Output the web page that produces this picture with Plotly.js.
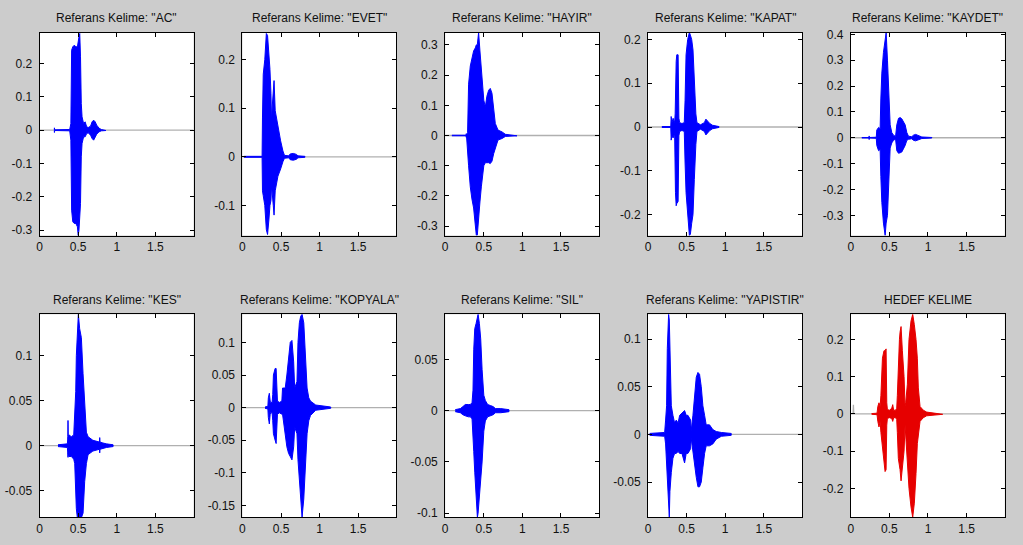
<!DOCTYPE html>
<html>
<head>
<meta charset="utf-8">
<script src="https://cdn.plot.ly/plotly-3.0.1.min.js"></script>
<style>html,body{margin:0;padding:0;background:#cccccc;}#chart{width:1023px;height:545px;}</style>
</head>
<body>
<div id="chart"></div>
<script>
// ---- titles ----
const titles = ['Referans Kelime: "AC"','Referans Kelime: "EVET"','Referans Kelime: "HAYIR"','Referans Kelime: "KAPAT"','Referans Kelime: "KAYDET"',
                'Referans Kelime: "KES"','Referans Kelime: "KOPYALA"','Referans Kelime: "SIL"','Referans Kelime: "YAPISTIR"','HEDEF KELIME'];

// ---- waveform envelopes (time s, upper, lower) ----
const AC_t  = [0.19,0.192,0.196,0.39,0.405,0.415,0.43,0.45,0.47,0.49,0.50,0.51,0.52,0.53,0.54,0.55,0.57,0.59,0.61,0.63,0.66,0.68,0.70,0.72,0.74,0.77,0.80,0.86];
const AC_up = [0.001,0.007,0.001,0.002,0.02,0.24,0.25,0.255,0.25,0.25,0.27,0.28,0.29,0.22,0.08,0.04,0.02,0.025,0.01,0.008,0.012,0.025,0.03,0.025,0.015,0.006,0.002,0.001];
const AC_lo = [-0.001,-0.007,-0.001,-0.002,-0.03,-0.24,-0.275,-0.28,-0.28,-0.29,-0.316,-0.3,-0.27,-0.22,-0.08,-0.04,-0.02,-0.02,-0.01,-0.008,-0.015,-0.025,-0.03,-0.02,-0.012,-0.005,-0.002,-0.001];

const EVET_t  = [0.02,0.255,0.26,0.27,0.29,0.30,0.31,0.326,0.343,0.357,0.37,0.378,0.385,0.40,0.41,0.425,0.46,0.495,0.525,0.545,0.60,0.62,0.66,0.70,0.72,0.81];
const EVET_up = [0.001,0.001,0.08,0.17,0.2,0.24,0.254,0.25,0.22,0.18,0.13,0.07,0.1,0.15,0.157,0.095,0.06,0.033,0.012,0.003,0.002,0.006,0.007,0.005,0.002,0.001];
const EVET_lo = [-0.001,-0.001,-0.07,-0.08,-0.1,-0.13,-0.15,-0.16,-0.13,-0.1,-0.09,-0.06,-0.07,-0.1,-0.12,-0.07,-0.04,-0.025,-0.01,-0.003,-0.002,-0.006,-0.007,-0.005,-0.002,-0.001];

const HAYIR_t  = [0.087,0.27,0.273,0.276,0.29,0.303,0.325,0.346,0.368,0.39,0.403,0.416,0.433,0.45,0.468,0.485,0.50,0.52,0.54,0.563,0.584,0.606,0.628,0.649,0.684,0.736,0.78,0.93];
const HAYIR_up = [0.001,0.001,0.006,0.001,0.01,0.17,0.23,0.25,0.28,0.29,0.3,0.3,0.341,0.28,0.21,0.15,0.117,0.095,0.13,0.15,0.156,0.14,0.084,0.04,0.018,0.012,0.004,0.001];
const HAYIR_lo = [-0.001,-0.001,-0.006,-0.001,-0.03,-0.1,-0.17,-0.21,-0.24,-0.29,-0.33,-0.33,-0.28,-0.22,-0.17,-0.13,-0.1,-0.09,-0.09,-0.09,-0.093,-0.085,-0.06,-0.04,-0.015,-0.01,-0.003,-0.001];

const KAPAT_t  = [0.18,0.295,0.30,0.31,0.325,0.345,0.352,0.356,0.365,0.373,0.39,0.40,0.41,0.44,0.47,0.48,0.493,0.514,0.536,0.549,0.566,0.583,0.60,0.62,0.634,0.68,0.73,0.75,0.78,0.80,0.836,0.92];
const KAPAT_up = [0.001,0.001,0.024,0.01,0.02,0.01,0.03,0.12,0.15,0.165,0.165,0.02,0.01,0.008,0.01,0.06,0.165,0.2,0.216,0.21,0.2,0.176,0.1,0.03,0.01,0.005,0.01,0.018,0.012,0.008,0.004,0.001];
const KAPAT_lo = [-0.001,-0.001,-0.03,-0.02,-0.025,-0.015,-0.04,-0.15,-0.18,-0.175,-0.17,-0.02,-0.01,-0.008,-0.01,-0.08,-0.15,-0.2,-0.248,-0.245,-0.22,-0.2,-0.12,-0.04,-0.01,-0.005,-0.01,-0.018,-0.012,-0.008,-0.004,-0.001];

const KAYDET_t  = [0.143,0.236,0.238,0.24,0.33,0.337,0.36,0.38,0.389,0.402,0.423,0.445,0.458,0.475,0.492,0.51,0.531,0.553,0.58,0.596,0.618,0.64,0.661,0.704,0.726,0.747,0.79,0.812,0.84,0.87,0.92,1.05];
const KAYDET_up = [0.001,0.001,0.007,0.001,0.002,0.03,0.04,0.035,0.15,0.25,0.33,0.37,0.407,0.3,0.15,0.05,0.02,0.01,0.005,0.05,0.075,0.078,0.073,0.05,0.02,0.006,0.004,0.01,0.013,0.01,0.003,0.001];
const KAYDET_lo = [-0.001,-0.001,-0.007,-0.001,-0.002,-0.03,-0.05,-0.045,-0.15,-0.25,-0.33,-0.378,-0.33,-0.3,-0.15,-0.04,-0.02,-0.01,-0.005,-0.05,-0.06,-0.058,-0.055,-0.03,-0.01,-0.006,-0.004,-0.01,-0.012,-0.01,-0.003,-0.001];

const KES_t  = [0.238,0.36,0.366,0.368,0.371,0.38,0.411,0.442,0.455,0.468,0.476,0.489,0.502,0.519,0.541,0.563,0.584,0.606,0.628,0.69,0.775,0.779,0.783,0.82,0.866,0.952];
const KES_up = [0.001,0.002,0.01,0.028,0.008,0.012,0.01,0.012,0.03,0.06,0.1,0.13,0.146,0.13,0.12,0.08,0.04,0.015,0.01,0.006,0.004,0.009,0.004,0.003,0.002,0.001];
const KES_lo = [-0.001,-0.002,-0.01,-0.013,-0.008,-0.012,-0.012,-0.015,-0.02,-0.05,-0.07,-0.08,-0.08,-0.08,-0.08,-0.075,-0.04,-0.02,-0.01,-0.006,-0.004,-0.008,-0.004,-0.003,-0.002,-0.001];

const KOPYALA_t  = [0.293,0.33,0.336,0.349,0.36,0.367,0.385,0.393,0.402,0.424,0.437,0.45,0.454,0.48,0.511,0.52,0.555,0.576,0.598,0.62,0.642,0.664,0.677,0.69,0.707,0.72,0.738,0.755,0.773,0.795,0.817,0.838,0.86,0.882,0.95,1.144];
const KOPYALA_up = [0.001,0.002,0.015,0.022,0.01,0.008,0.008,0.02,0.05,0.06,0.06,0.02,0.01,0.008,0.01,0.03,0.03,0.05,0.08,0.1,0.103,0.07,0.03,0.035,0.04,0.1,0.13,0.14,0.143,0.13,0.07,0.03,0.015,0.01,0.004,0.001];
const KOPYALA_lo = [-0.001,-0.002,-0.015,-0.025,-0.01,-0.008,-0.008,-0.02,-0.04,-0.05,-0.055,-0.02,-0.01,-0.008,-0.01,-0.01,-0.04,-0.06,-0.07,-0.075,-0.08,-0.06,-0.03,-0.035,-0.04,-0.08,-0.12,-0.14,-0.168,-0.14,-0.09,-0.04,-0.02,-0.012,-0.004,-0.001];

const SIL_t  = [0.13,0.196,0.23,0.26,0.30,0.326,0.348,0.36,0.37,0.383,0.40,0.417,0.426,0.443,0.46,0.478,0.50,0.52,0.55,0.587,0.62,0.652,0.72,0.826];
const SIL_up = [0.001,0.002,0.004,0.006,0.006,0.006,0.008,0.02,0.06,0.08,0.085,0.09,0.094,0.085,0.07,0.04,0.015,0.01,0.006,0.005,0.004,0.002,0.002,0.001];
const SIL_lo = [-0.001,-0.002,-0.004,-0.005,-0.006,-0.006,-0.008,-0.02,-0.04,-0.06,-0.085,-0.104,-0.1,-0.09,-0.07,-0.05,-0.02,-0.01,-0.006,-0.005,-0.004,-0.002,-0.002,-0.001];

const YAP_t  = [0.022,0.216,0.228,0.241,0.25,0.267,0.276,0.284,0.302,0.323,0.345,0.366,0.39,0.41,0.44,0.474,0.495,0.517,0.552,0.56,0.582,0.603,0.625,0.647,0.668,0.69,0.711,0.733,0.754,0.797,0.84,0.884,0.95,1.078];
const YAP_up = [0.001,0.002,0.015,0.03,0.09,0.126,0.12,0.08,0.03,0.02,0.012,0.015,0.012,0.02,0.022,0.025,0.02,0.02,0.015,0.004,0.02,0.04,0.06,0.065,0.063,0.05,0.03,0.02,0.01,0.01,0.005,0.003,0.002,0.001];
const YAP_lo = [-0.001,-0.002,-0.01,-0.025,-0.04,-0.07,-0.087,-0.06,-0.04,-0.025,-0.02,-0.02,-0.018,-0.02,-0.02,-0.03,-0.02,-0.02,-0.015,-0.004,-0.015,-0.03,-0.045,-0.055,-0.055,-0.05,-0.035,-0.02,-0.012,-0.012,-0.01,-0.005,-0.002,-0.001];

const HEDEF_t  = [0.27,0.34,0.35,0.365,0.38,0.39,0.41,0.43,0.444,0.457,0.466,0.474,0.50,0.53,0.543,0.555,0.58,0.595,0.603,0.616,0.63,0.638,0.651,0.668,0.69,0.703,0.711,0.733,0.754,0.78,0.802,0.823,0.845,0.862,0.875,0.897,0.94,0.983,1.19];
const HEDEF_up = [0.001,0.002,0.02,0.03,0.02,0.05,0.15,0.17,0.17,0.175,0.03,0.012,0.01,0.015,0.025,0.01,0.01,0.015,0.05,0.15,0.2,0.22,0.235,0.17,0.1,0.02,0.03,0.08,0.2,0.25,0.268,0.24,0.2,0.15,0.07,0.02,0.01,0.005,0.001];
const HEDEF_lo = [-0.001,-0.002,-0.02,-0.035,-0.02,-0.05,-0.08,-0.13,-0.155,-0.15,-0.03,-0.012,-0.01,-0.012,-0.02,-0.01,-0.01,-0.015,-0.05,-0.12,-0.14,-0.15,-0.18,-0.14,-0.1,-0.03,-0.05,-0.12,-0.2,-0.25,-0.278,-0.24,-0.16,-0.08,-0.05,-0.02,-0.01,-0.005,-0.001];

// quiet (gray) part of each recording
const base_t = [0, 1.995];
const base_v = [0, 0];
const HEDEF_base_t = [0, 0.03, 0.034, 0.038, 1.995];
const HEDEF_base_v = [0, 0, 0.025, 0, 0];

// ---- axis ranges and ticks ----
const yRanges = [[-0.316,0.293],[-0.162,0.256],[-0.331,0.341],[-0.248,0.216],[-0.378,0.407],
                 [-0.0796,0.146],[-0.168,0.143],[-0.104,0.094],[-0.087,0.126],[-0.278,0.268]];
const yTickVals = [[-0.3,-0.2,-0.1,0,0.1,0.2],[-0.1,0,0.1,0.2],[-0.3,-0.2,-0.1,0,0.1,0.2,0.3],[-0.2,-0.1,0,0.1,0.2],[-0.3,-0.2,-0.1,0,0.1,0.2,0.3,0.4],
                   [-0.05,0,0.05,0.1],[-0.15,-0.1,-0.05,0,0.05,0.1],[-0.1,-0.05,0,0.05],[-0.05,0,0.05,0.1],[-0.2,-0.1,0,0.1,0.2]];
const xTickVals = [0, 0.5, 1, 1.5];
const xTickText = ['0', '0.5', '1', '1.5'];
const xRange = [0, 1.995];

const env = [[AC_t,AC_up,AC_lo],[EVET_t,EVET_up,EVET_lo],[HAYIR_t,HAYIR_up,HAYIR_lo],[KAPAT_t,KAPAT_up,KAPAT_lo],[KAYDET_t,KAYDET_up,KAYDET_lo],
             [KES_t,KES_up,KES_lo],[KOPYALA_t,KOPYALA_up,KOPYALA_lo],[SIL_t,SIL_up,SIL_lo],[YAP_t,YAP_up,YAP_lo],[HEDEF_t,HEDEF_up,HEDEF_lo]];

const W = 1023, H = 545;
const colLeft = [39.6, 242.4, 445.2, 648.0, 850.8];
const plotW = 154;
const rowTop = [32.5, 314.3];
const plotH = 203;

const data = [];
const layout = {
  width: W, height: H,
  margin: {l:0, r:0, t:0, b:0},
  paper_bgcolor: '#cccccc',
  plot_bgcolor: '#ffffff',
  showlegend: false,
  annotations: []
};
const font = {family: 'Liberation Sans, Arial, sans-serif', size: 12, color: '#111111'};

for (let i = 0; i < 10; i++) {
  const r = Math.floor(i / 5), c = i % 5;
  const ax = i === 0 ? '' : String(i + 1);
  const x0 = colLeft[c] / W, x1 = (colLeft[c] + plotW) / W;
  const y1 = 1 - rowTop[r] / H, y0 = 1 - (rowTop[r] + plotH) / H;
  const color = i === 9 ? 'rgb(230,0,0)' : 'rgb(0,0,255)';
  data.push({
    type: 'scatter', mode: 'lines',
    x: i === 9 ? HEDEF_base_t : base_t, y: i === 9 ? HEDEF_base_v : base_v,
    xaxis: 'x' + ax, yaxis: 'y' + ax,
    line: {color: '#b0b0b0', width: 1.3}, hoverinfo: 'skip'
  });
  const [t, up, lo] = env[i];
  data.push({
    type: 'scatter', mode: 'lines',
    x: t.concat(t.slice().reverse()), y: up.concat(lo.slice().reverse()),
    fill: 'toself', fillcolor: color,
    xaxis: 'x' + ax, yaxis: 'y' + ax,
    line: {color: color, width: 1}, hoverinfo: 'skip'
  });
  const common = {
    showline: true, linecolor: '#000', linewidth: 1, mirror: 'ticks',
    ticks: 'inside', ticklen: 4, tickcolor: '#000', tickwidth: 1,
    showgrid: false, zeroline: false, tickfont: font, fixedrange: true
  };
  layout['xaxis' + ax] = Object.assign({}, common, {
    domain: [x0, x1], anchor: 'y' + ax, range: xRange,
    tickmode: 'array', tickvals: xTickVals, ticktext: xTickText
  });
  layout['yaxis' + ax] = Object.assign({}, common, {
    domain: [y0, y1], anchor: 'x' + ax, range: yRanges[i],
    tickmode: 'array', tickvals: yTickVals[i],
    ticktext: yTickVals[i].map(v => String(v)),
    ticklabelstandoff: 4
  });
  layout.annotations.push({
    text: titles[i], xref: 'paper', yref: 'paper',
    x: (x0 + x1) / 2, y: y1, xanchor: 'center', yanchor: 'bottom', yshift: 5,
    showarrow: false, font: font
  });
}

Plotly.newPlot('chart', data, layout, {displayModeBar: false, staticPlot: true});
</script>
</body>
</html>
